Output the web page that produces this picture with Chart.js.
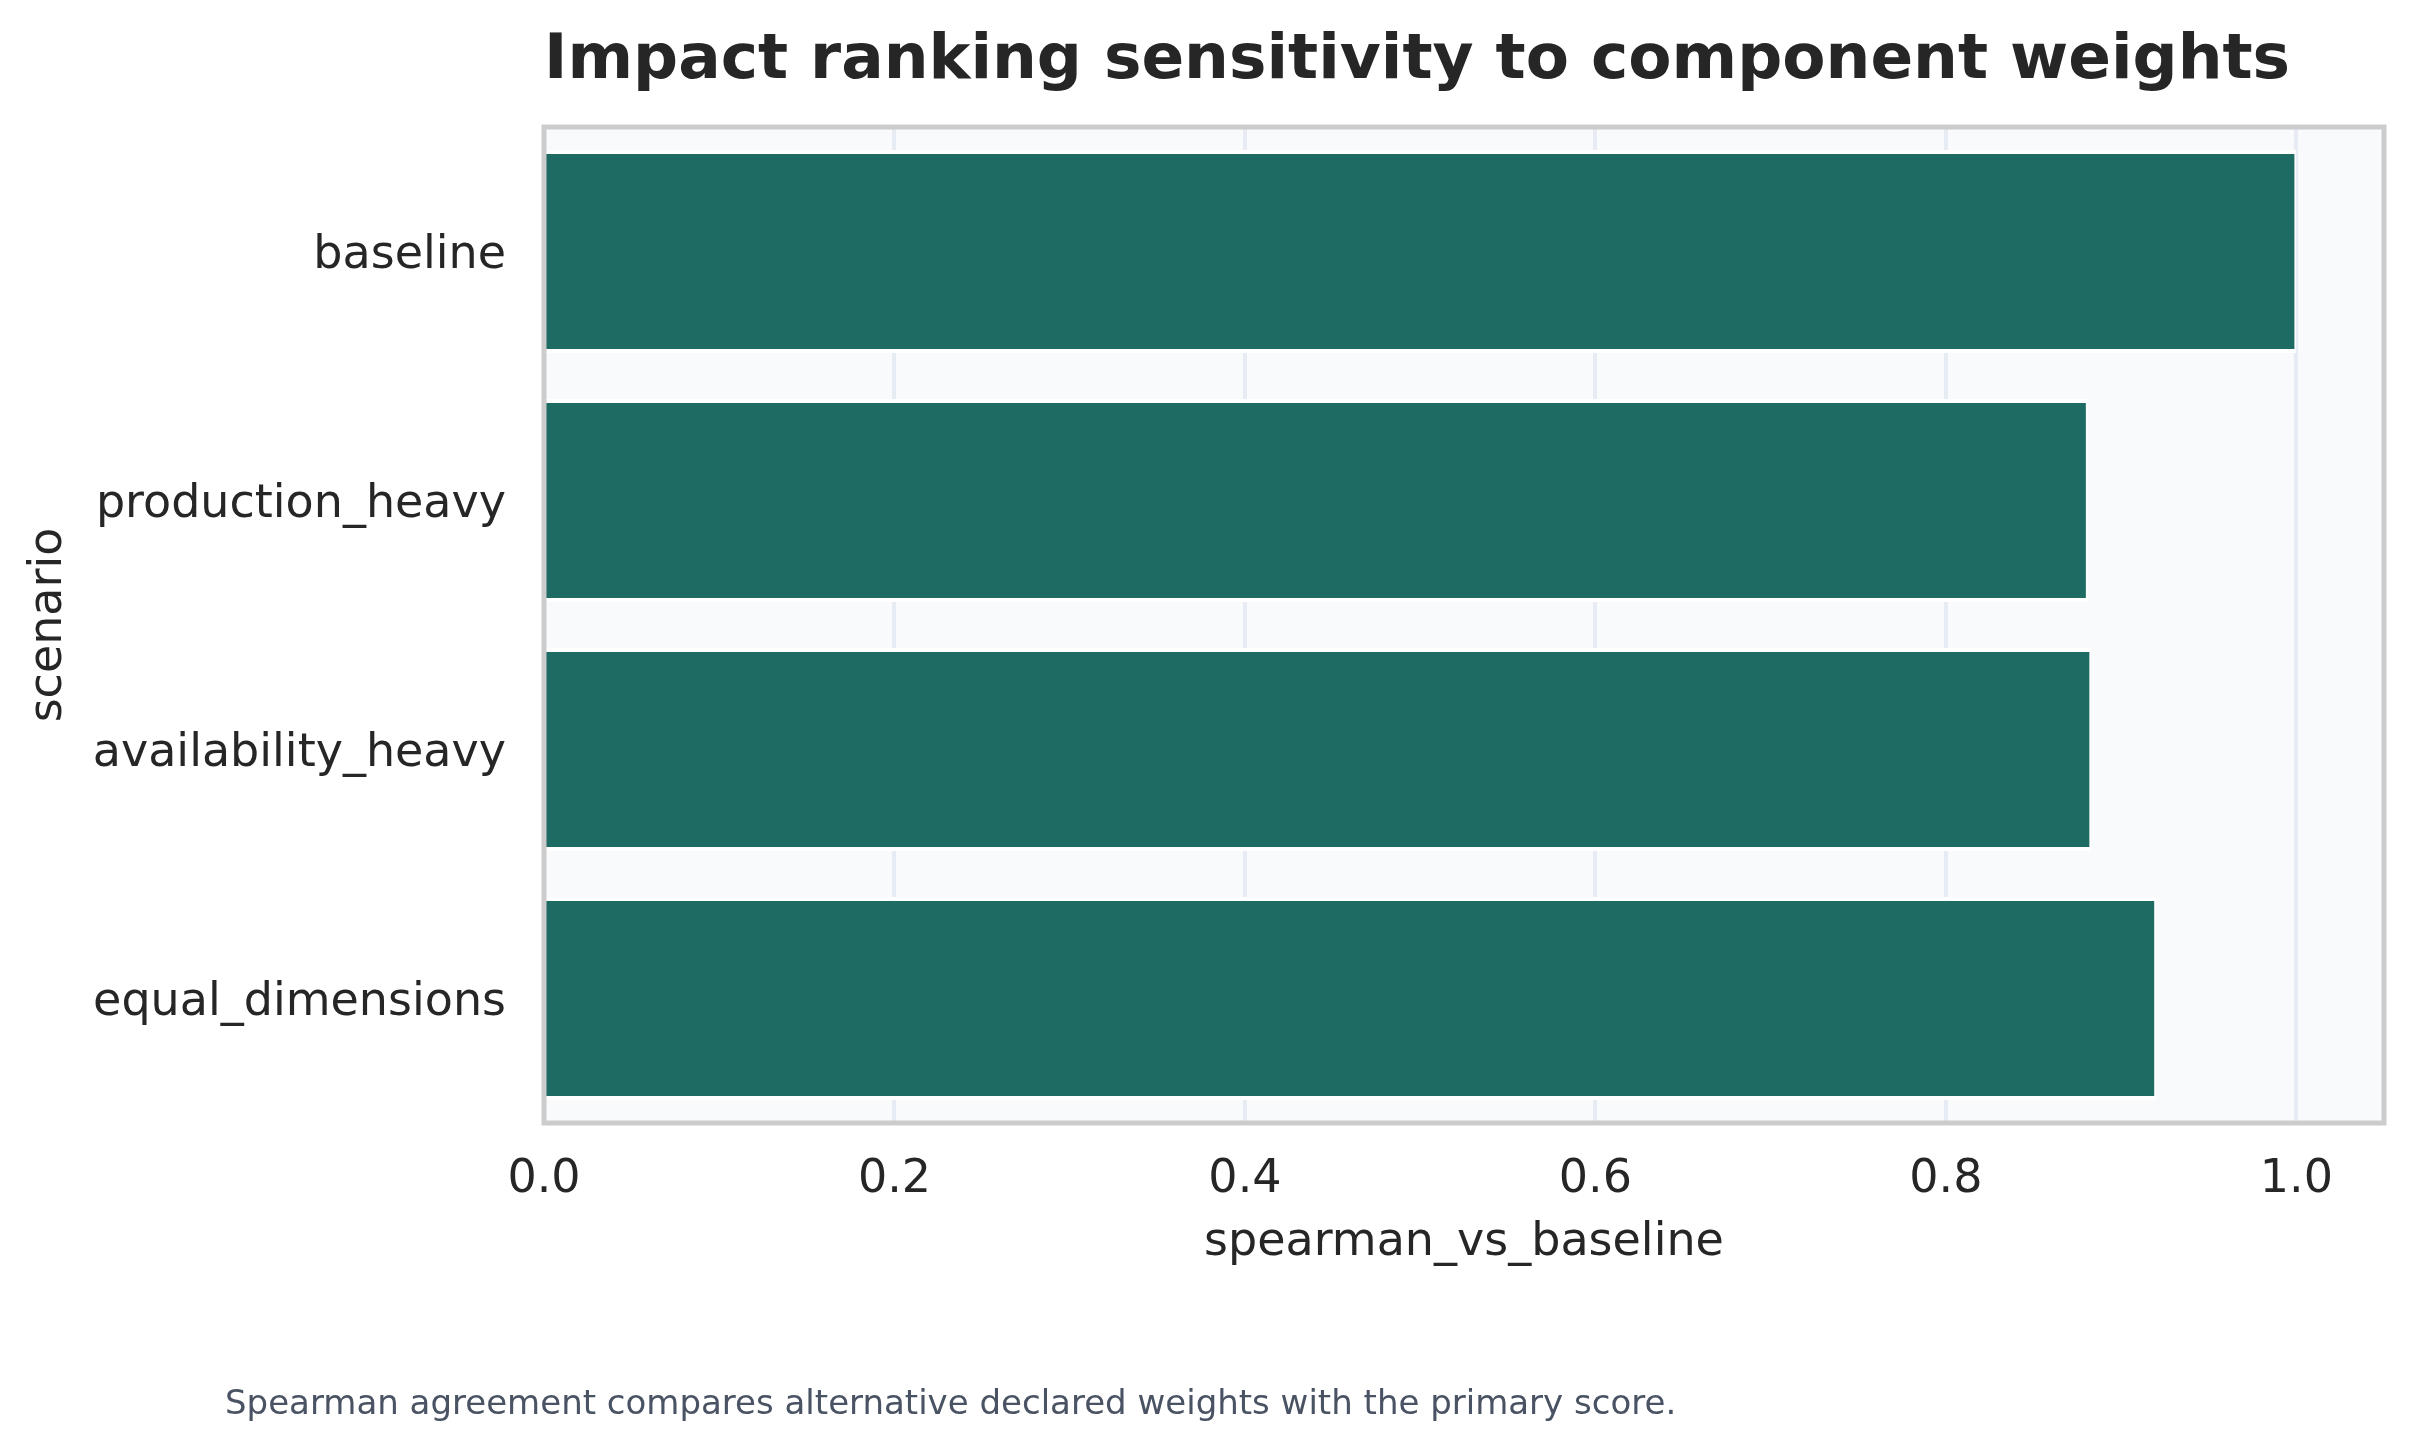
<!DOCTYPE html>
<html>
<head>
<meta charset="utf-8">
<title>Impact ranking sensitivity to component weights</title>
<script src="https://cdn.jsdelivr.net/npm/chart.js@4/dist/chart.umd.min.js"></script>
<style>
  body { margin: 0; background: #ffffff; overflow: hidden; }
  #wrap { position: relative; width: 2413px; height: 1452px; }
  #title {
    position: absolute; left: 544px; top: 25px;
    font-family: "DejaVu Sans", sans-serif; font-weight: bold;
    font-size: 63px; line-height: 63px; color: #262626; white-space: nowrap;
  }
  #note {
    position: absolute; left: 225px; top: 1385px;
    font-family: "DejaVu Sans", sans-serif;
    font-size: 34px; line-height: 34px; color: #4a5363; white-space: nowrap;
  }
  canvas { position: absolute; left: 0; top: 0; }
</style>
</head>
<body>
<div id="wrap">
  <canvas id="bars" width="2413" height="1452"></canvas>
  <div id="title">Impact ranking sensitivity to component weights</div>
  <div id="note">Spearman agreement compares alternative declared weights with the primary score.</div>
</div>
<script>
// data
const scenarios = ["baseline", "production_heavy", "availability_heavy", "equal_dimensions"];
const spearmanVsBaseline = [1.0, 0.881, 0.883, 0.920];
const xTicks = [0, 0.2, 0.4, 0.6, 0.8, 1.0];

Chart.defaults.font.family = "DejaVu Sans";
Chart.defaults.color = "#262626";

// plot background and the grey frame round it
const frame = {
  id: "frame",
  beforeDraw(chart) {
    const a = chart.chartArea;
    const c = chart.ctx;
    c.save();
    c.fillStyle = "#f8fafc";
    c.fillRect(a.left, a.top, a.right - a.left, a.bottom - a.top);
    c.restore();
  },
  afterDatasetsDraw(chart) {
    const a = chart.chartArea;
    const c = chart.ctx;
    c.save();
    c.strokeStyle = "#cccccc";
    c.lineWidth = 5;
    c.strokeRect(a.left, a.top, a.right - a.left, a.bottom - a.top);
    c.restore();
  }
};

const ctx = document.getElementById("bars");

new Chart(ctx, {
  type: "bar",
  data: {
    labels: scenarios,
    datasets: [
      {
        label: "spearman_vs_baseline",
        data: spearmanVsBaseline,
        backgroundColor: "#1e6b64",
        borderColor: "#ffffff",
        borderWidth: { top: 4, bottom: 4, right: 2, left: 0 },
        borderSkipped: "start",
        barPercentage: 0.816,
        categoryPercentage: 1.0
      }
    ]
  },
  options: {
    indexAxis: "y",
    responsive: false,
    animation: false,
    devicePixelRatio: 1,
    layout: {
      padding: { top: 127, right: 29, bottom: 169, left: 0 }
    },
    plugins: {
      legend: { display: false },
      tooltip: { enabled: false }
    },
    scales: {
      x: {
        type: "linear",
        min: 0,
        max: 1.05,
        afterBuildTicks: (scale) => {
          scale.ticks = xTicks.map((v) => ({ value: v }));
        },
        afterFit: (scale) => {
          scale.height = 160;
        },
        grid: {
          color: "#e6ebf4",
          lineWidth: 4,
          drawTicks: false
        },
        border: { display: false },
        ticks: {
          padding: 29,
          font: { size: 46 },
          color: "#262626",
          callback: (v) => Number(v).toFixed(1)
        },
        title: {
          display: true,
          text: "spearman_vs_baseline",
          font: { size: 46 },
          color: "#262626",
          padding: { top: 0, bottom: 12 }
        }
      },
      y: {
        afterFit: (scale) => {
          scale.width = 544;
        },
        grid: { display: false, drawTicks: false },
        border: { display: false },
        ticks: {
          padding: 38,
          labelOffset: 5,
          font: { size: 46 },
          color: "#262626"
        },
        title: {
          display: true,
          text: "scenario",
          font: { size: 46 },
          color: "#262626",
          padding: { top: 21, bottom: 0 }
        }
      }
    }
  },
  plugins: [frame]
});
</script>
</body>
</html>
